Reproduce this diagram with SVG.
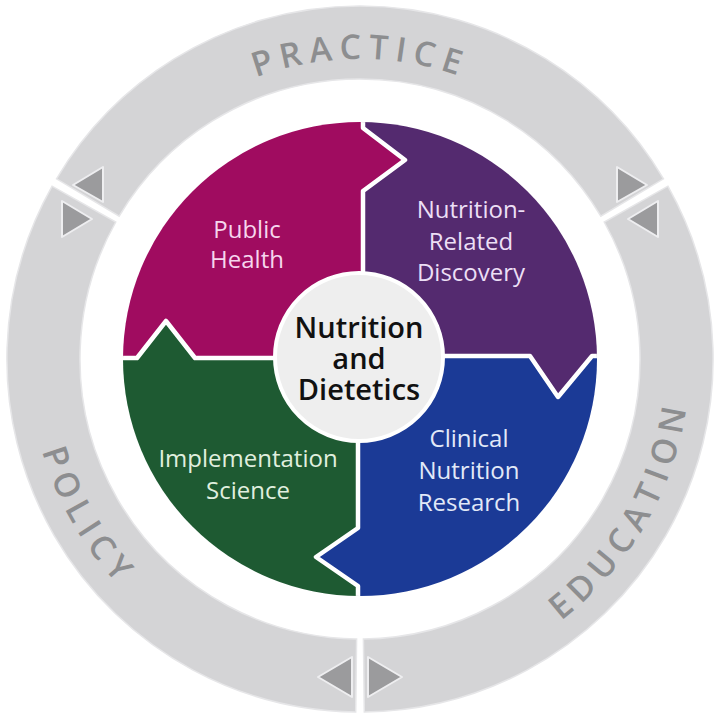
<svg xmlns="http://www.w3.org/2000/svg" width="720" height="718" viewBox="0 0 720 718">
<defs>
<style>
.seg{fill:#d4d4d6;stroke:#e6e6e8;stroke-width:1.5}
.ringtxt{font-family:"Open Sans","Liberation Sans",sans-serif;font-weight:600;font-size:34px;letter-spacing:7px;fill:#8d8e90}
.tri{fill:#9b9b9d;stroke:#eeeef0;stroke-width:2;stroke-linejoin:round}
.lbl{font-family:"Open Sans","Liberation Sans",sans-serif;font-size:24px;text-anchor:middle}
.ctr{font-family:"Open Sans","Liberation Sans",sans-serif;font-weight:600;font-size:29px;text-anchor:middle;fill:#111}
.div{fill:none;stroke:#ffffff;stroke-width:4.5;stroke-linejoin:round;stroke-linecap:butt}
</style>
<clipPath id="pie"><circle cx="360" cy="359" r="237"/></clipPath>
<path id="arcPractice" d="M 60,359 A 300,300 0 0,1 660,359"/>
<path id="arcEducation" d="M 417.3,684 A 330,330 0 0,0 670.1,246.1"/>
<path id="arcPolicy" d="M 49,245.8 A 331,331 0 0,0 302.5,685"/>
</defs>
<rect width="720" height="718" fill="#ffffff"/>

<g id="ring-practice">
<path class="seg" d="M 56.5,178.8 A 353,353 0 0,1 663.5,178.8 L 600.8,216.1 A 280,280 0 0,0 119.2,216.1 Z"/>
<text class="ringtxt"><textPath href="#arcPractice" startOffset="50%" text-anchor="middle">PRACTICE</textPath></text>
</g>
<g id="ring-education">
<path class="seg" d="M 667.9,186.2 A 353,353 0 0,1 364.3,712 L 363.4,639 A 280,280 0 0,0 604.2,222 Z"/>
<text class="ringtxt"><textPath href="#arcEducation" startOffset="50%" text-anchor="middle">EDUCATION</textPath></text>
</g>
<g id="ring-policy">
<path class="seg" d="M 355.7,712 A 353,353 0 0,1 52.1,186.2 L 115.8,222 A 280,280 0 0,0 356.6,639 Z"/>
<text class="ringtxt"><textPath href="#arcPolicy" startOffset="50%" text-anchor="middle">POLICY</textPath></text>
</g>

<g id="connectors">
<polygon class="tri" points="103,167 103,202 73,185"/>
<polygon class="tri" points="62,201 62,237 92,219"/>
<polygon class="tri" points="617,167 617,202 647,185"/>
<polygon class="tri" points="658,201 658,237 628,219"/>
<polygon class="tri" points="352,657 352,697 318,677"/>
<polygon class="tri" points="368,657 368,697 402,677"/>
</g>

<g clip-path="url(#pie)">
<g id="public-health">
<path fill="#a00c60" d="M 363,100 L 363,128 L 405,160 L 363,191 L 363,358 L 195,358 L 166,321 L 137,358 L 100,358 L 100,100 Z"/>
</g>
<g id="nutrition-related-discovery">
<path fill="#542a6f" d="M 363,100 L 620,100 L 620,356 L 592,356 L 558,397 L 530,356 L 363,356 L 363,191 L 405,160 L 363,128 Z"/>
</g>
<g id="clinical-nutrition-research">
<path fill="#1b3a96" d="M 358,620 L 620,620 L 620,356 L 592,356 L 558,397 L 530,356 L 358,356 L 358,528 L 316,557 L 358,586 Z"/>
</g>
<g id="implementation-science">
<path fill="#1e5a32" d="M 100,358 L 137,358 L 166,321 L 195,358 L 358,358 L 358,528 L 316,557 L 358,586 L 358,620 L 100,620 Z"/>
</g>
<path class="div" d="M 363,110 L 363,128 L 405,160 L 363,191 L 363,290"/>
<path class="div" d="M 110,358 L 137,358 L 166,321 L 195,358 L 290,358"/>
<path class="div" d="M 358,430 L 358,528 L 316,557 L 358,586 L 358,610"/>
<path class="div" d="M 430,356 L 530,356 L 558,397 L 592,356 L 610,356"/>
</g>

<g id="labels">
<text class="lbl" fill="#f6d6ee" x="247" y="238">Public</text>
<text class="lbl" fill="#f6d6ee" x="247" y="268">Health</text>
<text class="lbl" fill="#ecdff5" x="471" y="218">Nutrition-</text>
<text class="lbl" fill="#ecdff5" x="471" y="250">Related</text>
<text class="lbl" fill="#ecdff5" x="471" y="281">Discovery</text>
<text class="lbl" fill="#e0efdf" x="248" y="467">Implementation</text>
<text class="lbl" fill="#e0efdf" x="248" y="499">Science</text>
<text class="lbl" fill="#e2e9f8" x="469" y="447">Clinical</text>
<text class="lbl" fill="#e2e9f8" x="469" y="479">Nutrition</text>
<text class="lbl" fill="#e2e9f8" x="469" y="511">Research</text>
</g>

<g id="center">
<circle cx="359" cy="357" r="84" fill="#eeeeee" stroke="#ffffff" stroke-width="4"/>
<text class="ctr" x="359" y="338">Nutrition</text>
<text class="ctr" x="359" y="369">and</text>
<text class="ctr" x="359" y="400">Dietetics</text>
</g>
</svg>
